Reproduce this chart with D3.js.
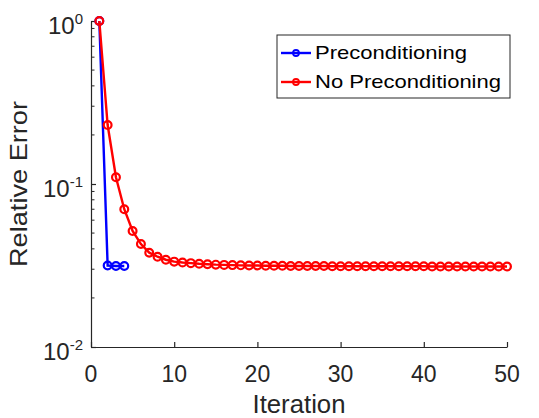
<!DOCTYPE html>
<html>
<head>
<meta charset="utf-8">
<script src="https://cdn.jsdelivr.net/npm/d3@7"></script>
<style>
  body { margin: 0; background: #fff; }
  text { font-family: "Liberation Sans", Arial, sans-serif; fill: #262626; }
</style>
</head>
<body>
<script>
var width = 539,
    height = 418;

// series
var precondIter = [1, 2, 3, 4];
var precondError = [1.0, 0.0316, 0.0314, 0.0314];

var noPrecondIter = d3.range(1, 51);
var noPrecondError = [
  1.0, 0.230, 0.110, 0.0700, 0.0515, 0.0428, 0.0379, 0.0358, 0.0343, 0.0334,
  0.0330, 0.0327, 0.0324, 0.0322, 0.0320, 0.0319, 0.0318, 0.0317, 0.0316, 0.0316,
  0.0315, 0.0315, 0.0315, 0.0314, 0.0314, 0.0314, 0.0314, 0.0314, 0.0313, 0.0313,
  0.0313, 0.0313, 0.0313, 0.0313, 0.0313, 0.0313, 0.0313, 0.0313, 0.0313, 0.0313,
  0.0312, 0.0312, 0.0312, 0.0312, 0.0312, 0.0312, 0.0312, 0.0312, 0.0312, 0.0312
];

var xTicks = [0, 10, 20, 30, 40, 50];
var yTickExps = [0, -1, -2];
var seriesNames = ["Preconditioning", "No Preconditioning"];
var seriesColors = ["#0000ff", "#ff0000"];

var margin = {left: 91, right: 32, top: 21, bottom: 71};

var x = d3.scaleLinear()
    .domain([0, 50])
    .range([margin.left, width - margin.right]);

var y = d3.scaleLog()
    .domain([0.01, 1])
    .range([height - margin.bottom, margin.top]);

var svg = d3.select("body").append("svg")
    .attr("width", width)
    .attr("height", height);

// axes (ticks inward, no box)
var xAxis = svg.append("g")
    .attr("transform", "translate(0," + y.range()[0] + ")")
    .call(d3.axisBottom(x).tickValues(xTicks).tickSizeInner(-5).tickSizeOuter(0).tickFormat(""));
var yAxis = svg.append("g")
    .attr("transform", "translate(" + x.range()[0] + ",0)")
    .call(d3.axisLeft(y).tickValues([0.01, 0.1, 1]).tickSizeInner(-5).tickSizeOuter(0).tickFormat(""));

// minor ticks on log axis
var minor = [];
[0.01, 0.1].forEach(function(b) {
  for (var k = 2; k <= 9; k++) minor.push(b * k);
});
yAxis.selectAll(".minor")
    .data(minor)
    .enter().append("line")
    .attr("x1", 0).attr("x2", 3.5)
    .attr("y1", function(d) { return y(d); })
    .attr("y2", function(d) { return y(d); })
    .attr("stroke", "#262626");

svg.selectAll(".domain, .tick line")
    .attr("stroke", "#262626")
    .attr("stroke-width", 1.2);

// x tick labels
svg.selectAll(".xlab")
    .data(xTicks)
    .enter().append("text")
    .attr("x", function(d) { return x(d); })
    .attr("y", y.range()[0] + 35)
    .attr("text-anchor", "middle")
    .attr("font-size", 23)
    .text(function(d) { return d; });

// y tick labels 10^n
var ylab = svg.selectAll(".ylab")
    .data(yTickExps)
    .enter().append("text")
    .attr("x", x.range()[0] - 8)
    .attr("y", function(d) { return y(Math.pow(10, d)) + 13; })
    .attr("text-anchor", "end")
    .attr("font-size", 24);
ylab.append("tspan").text("10");
ylab.append("tspan")
    .attr("dy", -10)
    .attr("font-size", 15)
    .text(function(d) { return d; });

// axis titles
svg.append("text")
    .attr("x", (x.range()[0] + x.range()[1]) / 2)
    .attr("y", 413)
    .attr("text-anchor", "middle")
    .attr("font-size", 25)
    .attr("textLength", 93)
    .attr("lengthAdjust", "spacingAndGlyphs")
    .text("Iteration");

svg.append("text")
    .attr("transform", "translate(27," + y(0.1) + ") rotate(-90)")
    .attr("text-anchor", "middle")
    .attr("font-size", 24)
    .attr("textLength", 166)
    .attr("lengthAdjust", "spacingAndGlyphs")
    .text("Relative Error");

// series
var series = [
  {name: seriesNames[0], color: seriesColors[0], xs: precondIter, ys: precondError, w: 152},
  {name: seriesNames[1], color: seriesColors[1], xs: noPrecondIter, ys: noPrecondError, w: 186}
];

var line = d3.line()
    .x(function(d) { return x(d[0]); })
    .y(function(d) { return y(d[1]); });

series.forEach(function(s) {
  var pts = d3.zip(s.xs, s.ys);
  svg.append("path")
      .datum(pts)
      .attr("d", line)
      .attr("fill", "none")
      .attr("stroke", s.color)
      .attr("stroke-width", 2.4);
  svg.selectAll(null)
      .data(pts)
      .enter().append("circle")
      .attr("cx", function(d) { return x(d[0]); })
      .attr("cy", function(d) { return y(d[1]); })
      .attr("r", 3.9)
      .attr("fill", "none")
      .attr("stroke", s.color)
      .attr("stroke-width", 2.2);
});

// legend
var legend = svg.append("g");
legend.append("rect")
    .attr("x", 277).attr("y", 35)
    .attr("width", 233).attr("height", 63)
    .attr("fill", "#fff")
    .attr("stroke", "#262626")
    .attr("stroke-width", 1);

var rows = legend.selectAll(".row")
    .data(series)
    .enter().append("g")
    .attr("transform", function(d, i) { return "translate(0," + (53 + i * 29) + ")"; });
rows.append("line")
    .attr("x1", 281).attr("x2", 311)
    .attr("stroke", function(d) { return d.color; })
    .attr("stroke-width", 2.4);
rows.append("circle")
    .attr("cx", 296).attr("r", 3)
    .attr("fill", "none")
    .attr("stroke", function(d) { return d.color; })
    .attr("stroke-width", 1.8);
rows.append("text")
    .attr("x", 315).attr("y", 6)
    .attr("font-size", 19)
    .attr("textLength", function(d) { return d.w; })
    .attr("lengthAdjust", "spacingAndGlyphs")
    .style("fill", "#000")
    .text(function(d) { return d.name; });
</script>
</body>
</html>
